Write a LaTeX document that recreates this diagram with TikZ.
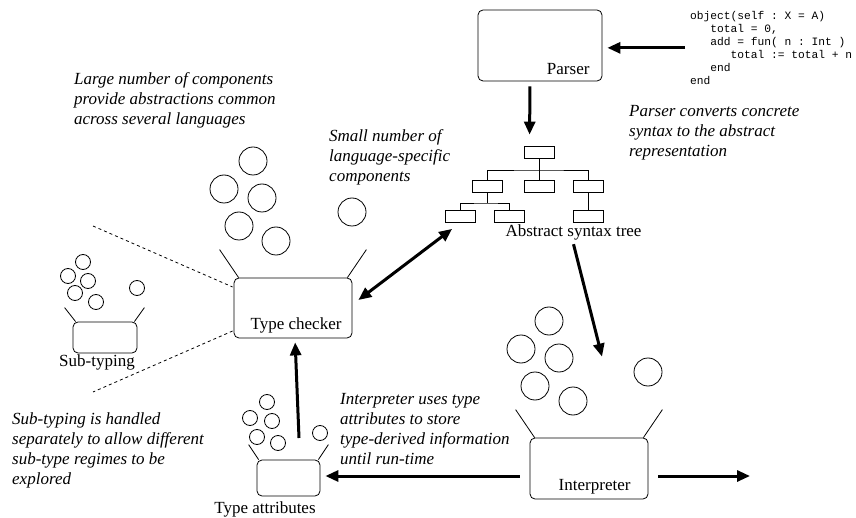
\documentclass[tikz,border=0pt]{standalone}
\usepackage{fontspec}
\setmainfont{Liberation Serif}
\setmonofont{Liberation Mono}
\usetikzlibrary{arrows.meta}

\tikzset{
  unit/.style={draw, rounded corners=5pt, line width=0.8pt, inner sep=0pt},
  treebox/.style={draw, line width=0.8pt, minimum width=30pt, minimum height=12pt, inner sep=0pt},
  flow/.style={line width=3pt, -{Triangle[length=13pt,width=11pt]}},
  flowboth/.style={line width=3pt, {Triangle[length=13pt,width=11pt]}-{Triangle[length=13pt,width=11pt]}},
  note/.style={anchor=north west, align=left, inner sep=0pt, font=\itshape\fontsize{17}{20}\selectfont},
  thin/.style={line width=0.8pt},
}

\begin{document}
\begin{tikzpicture}[x=1pt, y=-1pt, font=\fontsize{17}{20}\selectfont]
\useasboundingbox (0,0) rectangle (856,518);

% parser
\node[unit, minimum width=124pt, minimum height=71pt] (parser) at (540,45.5) {};
\node[anchor=base east] (parserlbl) at (593,75) {Parser};
\node[anchor=north west, inner sep=0pt, align=left, font=\ttfamily\fontsize{11.25}{13}\selectfont] (code) at (690,11)
  {object(self : X = A)\\
   \phantom{mmm}total = 0,\\
   \phantom{mmm}add = fun( n : Int )\\
   \phantom{mmmmmm}total := total + n\\
   \phantom{mmm}end\\
   end};
\draw[flow, shorten <=5pt, shorten >=5pt] (code.west) -- (parser.east |- code.west);
\node[note] (parsernote) at (629,105) {Parser converts concrete\\syntax to the abstract\\representation};

% abstract syntax tree
\node[treebox] (t0) at (539.5,152) {};
\node[treebox] (t1) at (487,186) {};
\node[treebox] (t2) at (539.5,186) {};
\node[treebox] (t3) at (588,186) {};
\node[treebox] (t4) at (460.5,216.5) {};
\node[treebox] (t5) at (509.5,216.5) {};
\node[treebox] (t6) at (588,216.5) {};
\coordinate (j0) at (539.5,170);
\coordinate (j1) at (487,203);
\draw[thin] (t0) -- (t2);
\draw[thin] (t1.north) |- (j0) -| (t3.north);
\draw[thin] (t1.south) -- (j1);
\draw[thin] (t4.north) |- (j1) -| (t5.north);
\draw[thin] (t3) -- (t6);
\node[anchor=base west] (astlbl) at (502,237) {Abstract syntax tree};
\draw[flow, shorten <=5pt, shorten >=11pt] ([xshift=-10pt]parser.south) -- ([xshift=-10pt]t0.north);

% type checker
\node[unit, minimum width=118pt, minimum height=60pt] (tc) at (293,308) {};
\node[anchor=base east] (tclbl) at (345,330) {Type checker};
\draw[thin] ([xshift=5pt]tc.north west) -- +(-19,-28);
\draw[thin] ([xshift=-5pt]tc.north east) -- +(19,-28);
\draw[thin] (253,161) circle (14pt);
\draw[thin] (224,189) circle (14pt);
\draw[thin] (262,198) circle (14pt);
\draw[thin] (239,226) circle (14pt);
\draw[thin] (276,241) circle (14pt);
\draw[thin] (352,212) circle (14pt);
\draw[flowboth] ([shift={(6,-8)}]tc.east) -- ([shift={(7,6)}]t4.south west);
\node[note] (largenote) at (74,72) {Large number of components\\provide abstractions common\\across several languages};
\node[note] (smallnote) at (329,129) {Small number of\\language-specific\\components};

% sub-typing
\node[unit, minimum width=64pt, minimum height=31pt] (sub) at (105,337.5) {};
\node[anchor=base] (sublbl) at (97,366) {Sub-typing};
\draw[thin] ([xshift=3pt]sub.north west) -- +(-11,-14);
\draw[thin] ([xshift=-3pt]sub.north east) -- +(10,-14);
\draw[thin] (83,262) circle (7.5pt);
\draw[thin] (68,276) circle (7.5pt);
\draw[thin] (88,281) circle (7.5pt);
\draw[thin] (75,293) circle (7.5pt);
\draw[thin] (96,302) circle (7.5pt);
\draw[thin] (137,288) circle (7.5pt);
\coordinate (dash1) at (93,226);
\coordinate (dash2) at (93,392);
\draw[thin, dashed] (dash1) -- ([shift={(-1,-21)}]tc.west);
\draw[thin, dashed] ([shift={(-1,23)}]tc.west) -- (dash2);
\node[note] (subnote) at (12,413) {Sub-typing is handled\\separately to allow different\\sub-type regimes to be\\explored};

% type attributes
\node[unit, minimum width=63pt, minimum height=36pt] (attr) at (288.5,478) {};
\node[anchor=base] (attrlbl) at (265,513) {Type attributes};
\draw[thin] ([xshift=2pt]attr.north west) -- +(-10,-15);
\draw[thin] ([xshift=-2pt]attr.north east) -- +(10,-15);
\draw[thin] (267,402) circle (7.5pt);
\draw[thin] (250,418) circle (7.5pt);
\draw[thin] (272,421) circle (7.5pt);
\draw[thin] (257,437) circle (7.5pt);
\draw[thin] (278,443) circle (7.5pt);
\draw[thin] (320,433) circle (7.5pt);
\coordinate (attrout) at (299,438);
\draw[flow, shorten >=4pt] (attrout) -- ([xshift=2pt]tc.south);

% interpreter
\node[unit, minimum width=118pt, minimum height=61pt] (interp) at (589,468.5) {};
\node[anchor=base east] (interplbl) at (634,490) {Interpreter};
\draw[thin] ([xshift=5pt]interp.north west) -- +(-19,-28);
\draw[thin] ([xshift=-5pt]interp.north east) -- +(19,-28);
\draw[thin] (549,321) circle (14pt);
\draw[thin] (521,349) circle (14pt);
\draw[thin] (559,358) circle (14pt);
\draw[thin] (535,386) circle (14pt);
\draw[thin] (573,401) circle (14pt);
\draw[thin] (648,372) circle (14pt);
\draw[flow] (astlbl.south) -- ([shift={(13,-81)}]interp.north);
\draw[flow] ([shift={(-10,7.5)}]interp.west) -- ([shift={(5,-2)}]attr.east);
\coordinate (out) at (750,476);
\draw[flow] ([shift={(10,7.5)}]interp.east) -- (out);
\node[note] (interpnote) at (340,393) {Interpreter uses type\\attributes to store\\type-derived information\\until run-time};
\end{tikzpicture}
\end{document}
